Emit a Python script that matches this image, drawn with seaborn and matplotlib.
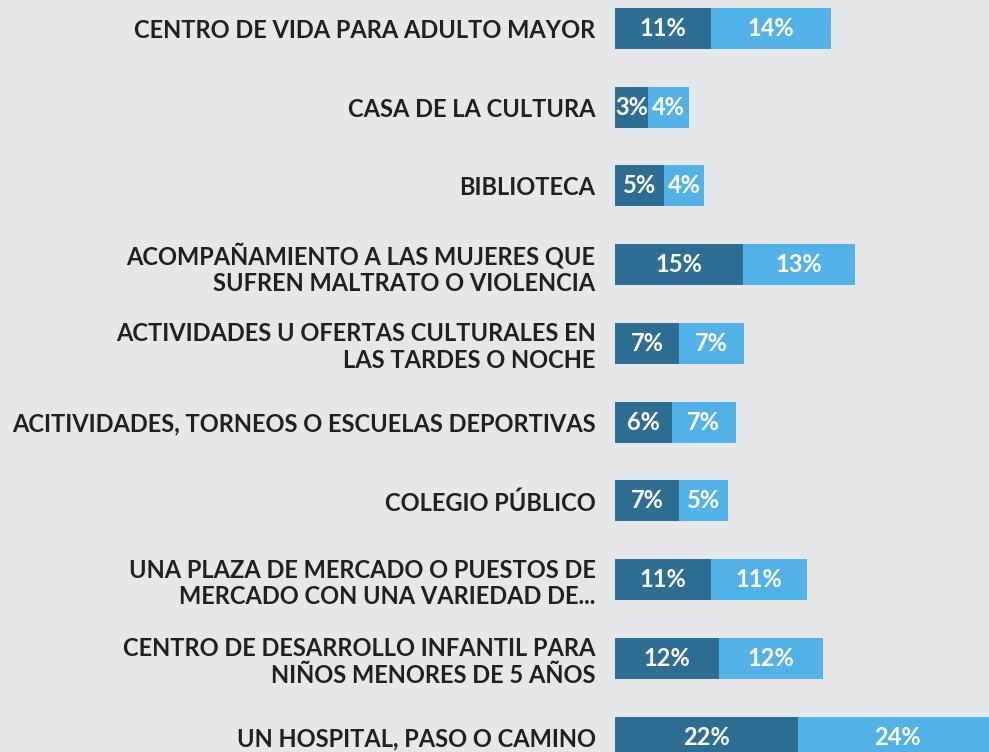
import pandas as pd
import seaborn as sns
import matplotlib.pyplot as plt

categorias = [
    "CENTRO DE VIDA PARA ADULTO MAYOR",
    "CASA DE LA CULTURA",
    "BIBLIOTECA",
    "ACOMPAÑAMIENTO A LAS MUJERES QUE\nSUFREN MALTRATO O VIOLENCIA",
    "ACTIVIDADES U OFERTAS CULTURALES EN\nLAS TARDES O NOCHE",
    "ACITIVIDADES, TORNEOS O ESCUELAS DEPORTIVAS",
    "COLEGIO PÚBLICO",
    "UNA PLAZA DE MERCADO O PUESTOS DE\nMERCADO CON UNA VARIEDAD DE...",
    "CENTRO DE DESARROLLO INFANTIL PARA\nNIÑOS MENORES DE 5 AÑOS",
    "UN HOSPITAL, PASO O CAMINO",
]
serie_a = [11, 3, 5, 15, 7, 6, 7, 11, 12, 22]
serie_b = [14, 4, 4, 13, 7, 7, 5, 11, 12, 24]

oscuro = "#2E6E93"
claro = "#52B1E6"
fondo = "#E6E7E9"
pad = 1.15  # espacio extra por segmento para que quepa la etiqueta

df = pd.DataFrame({"cat": categorias, "a": serie_a, "b": serie_b})
df["largo_a"] = df["a"] + pad
df["total"] = df["a"] + df["b"] + 2 * pad

sns.set_style("white")
plt.rcParams["font.family"] = ["Lato", "DejaVu Sans"]

fig = plt.figure(figsize=(9.89, 7.52), dpi=100, facecolor=fondo)
ax = fig.add_axes([615 / 989, 0, 374 / 989, 1])
ax.set_facecolor(fondo)

sns.barplot(data=df, y="cat", x="total", color=claro, orient="h",
            width=0.52, saturation=1, linewidth=0, ax=ax)
sns.barplot(data=df, y="cat", x="largo_a", color=oscuro, orient="h",
            width=0.52, saturation=1, linewidth=0, ax=ax)

for i, (a, b) in enumerate(zip(serie_a, serie_b)):
    ax.text((a + pad) / 2, i, f"{a}%", ha="center", va="center", color="white",
            fontsize=17, fontweight="bold")
    ax.text(a + pad + (b + pad) / 2, i, f"{b}%", ha="center", va="center",
            color="white", fontsize=17, fontweight="bold")

ax.set_xlim(0, 47.3)
ax.set_ylim(9.19, -0.362)
ax.set_xlabel("")
ax.set_ylabel("")
ax.set_xticks([])
ax.tick_params(axis="y", length=0, pad=14)
for lbl in ax.get_yticklabels():
    lbl.set_fontsize(17)
    lbl.set_fontweight("bold")
    lbl.set_color("#231F20")
    lbl.set_linespacing(1.2)
sns.despine(ax=ax, left=True, bottom=True)

fig.savefig("out.png", dpi=100, facecolor=fondo)
